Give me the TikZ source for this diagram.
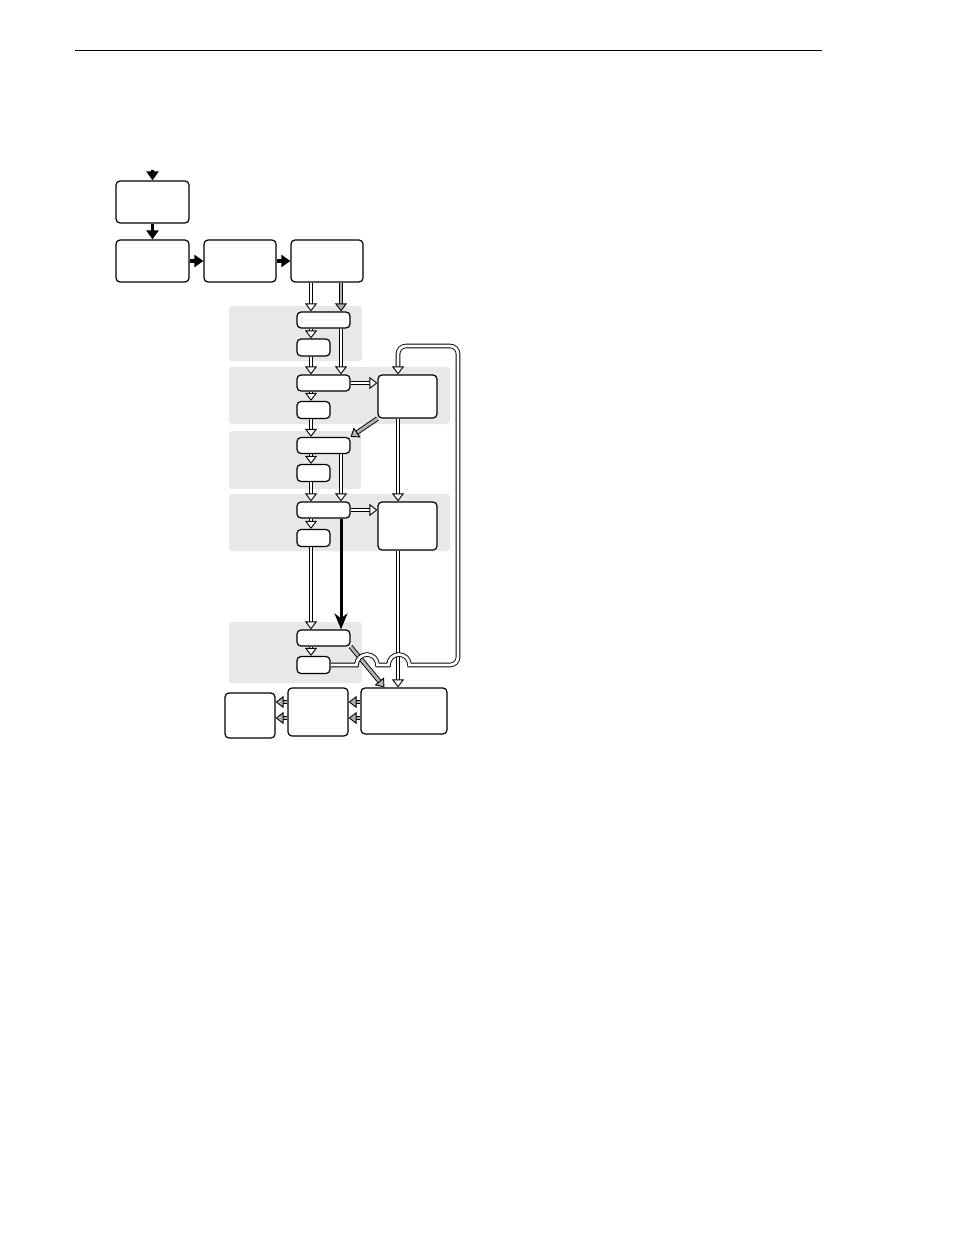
\documentclass[tikz,border=0pt]{standalone}
\usetikzlibrary{arrows.meta}
\tikzset{
  box/.style={draw, rounded corners=2pt, line width=0.6pt, fill=white, inner sep=0pt},
  wide/.style={box, minimum width=26.5pt, minimum height=8pt},
  narrow/.style={box, minimum width=16.5pt, minimum height=8.5pt},
  panel/.style={fill=black!9, rounded corners=1.5pt},
  flow/.style={line width=1.6pt, -{Triangle[length=4.5pt,width=6pt]}},
  bigarrow/.style={line width=1.5pt, -{Stealth[length=8pt,width=6.5pt,inset=2.5pt]}},
  dbl/.style={line width=0.45pt, double=white, double distance=1.4pt, -{Triangle[length=4pt,width=6pt,fill=white]}},
  dblgray/.style={dbl, double=black!30, -{Triangle[length=4pt,width=6pt,fill=black!30]}}
}
\begin{document}
\begin{tikzpicture}[x=0.5pt,y=-0.5pt]
  \useasboundingbox (0,0) rectangle (954,1235);
  \draw[line width=0.5pt] (75,51) -- (822,51);
  % shaded bands
  \fill[panel] (229,306) rectangle (362,361);
  \fill[panel] (229,367) rectangle (450,424);
  \fill[panel] (229,431) rectangle (361,489);
  \fill[panel] (229,494) rectangle (450,551);
  \fill[panel] (229,622) rectangle (362,683);
  % top row
  \node[box, minimum width=36.5pt, minimum height=21pt] (t0) at (152.5,202) {};
  \node[box, minimum width=36.5pt, minimum height=21pt] (t1) at (152.5,261) {};
  \node[box, minimum width=36pt, minimum height=21pt] (t2) at (240,261) {};
  \node[box, minimum width=36pt, minimum height=21pt] (t3) at (327,261) {};
  \coordinate (feed) at (152.5,170);
  \draw[flow] (feed) -- (t0);
  \draw[flow] (t0) -- (t1);
  \draw[flow] (t1) -- (t2);
  \draw[flow] (t2) -- (t3);
  % stages
  \foreach \i/\y/\z in {1/320/347.5, 2/383/410, 3/445.5/473, 4/510/538, 5/638/665} {
    \node[wide] (w\i) at (323.5,\y) {};
    \node[narrow] (n\i) at (313.5,\z) {};
  }
  \node[box, minimum width=29.5pt, minimum height=21.5pt] (e1) at (407.5,396.5) {};
  \node[box, minimum width=29.5pt, minimum height=24pt] (e2) at (407.5,526) {};
  \node[box, minimum width=43pt, minimum height=23pt] (f) at (404,711) {};
  \node[box, minimum width=30pt, minimum height=24pt] (g) at (318,712) {};
  \node[box, minimum width=25pt, minimum height=22.5pt] (h) at (250,715.5) {};
  \coordinate (cl) at (311,0);
  \coordinate (cr) at (341,0);
  \coordinate (ce) at (398,0);
  % connectors
  \draw[dbl] (t3.south -| cl) -- (w1.north -| cl);
  \draw[dblgray] (t3.south -| cr) -- (w1.north -| cr);
  \foreach \i in {1,...,5}
    \draw[dbl] (w\i.south -| cl) -- (n\i.north -| cl);
  \foreach \i/\j in {1/2, 2/3, 3/4, 4/5}
    \draw[dbl] (n\i.south -| cl) -- (w\j.north -| cl);
  \draw[dbl] (w1.south -| cr) -- (w2.north -| cr);
  \draw[dbl] (w3.south -| cr) -- (w4.north -| cr);
  \draw[bigarrow] (w4.south -| cr) -- (w5.north -| cr);
  \draw[dbl] (w2.east) -- (e1.west |- w2.east);
  \draw[dbl] (w4.east) -- (e2.west |- w4.east);
  \draw[dblgray] (e1.south west) -- (w3.north east);
  \draw[dbl] (e1.south -| ce) -- (e2.north -| ce);
  \draw[dbl] (e2.south -| ce) -- (f.north -| ce);
  \draw[dblgray] (w5.south east) -- ([xshift=12pt]f.north west);
  \draw[dblgray] ([yshift=4.5pt]f.west) -- ([yshift=4.5pt]f.west -| g.east);
  \draw[dblgray] ([yshift=-3.5pt]f.west) -- ([yshift=-3.5pt]f.west -| g.east);
  \draw[dblgray] ([yshift=5pt]g.west) -- ([yshift=5pt]g.west -| h.east);
  \draw[dblgray] ([yshift=-3pt]g.west) -- ([yshift=-3pt]g.west -| h.east);
  % feedback loop with hops
  \draw[dbl] (n5.east) -- (356.5,665) arc[start angle=180, end angle=360, radius=10.5]
    -- (388.5,665) arc[start angle=180, end angle=360, radius=10.5]
    [rounded corners=4pt] -- (458,665) -- (458,346) -- (398,346) -- (e1.north -| ce);
\end{tikzpicture}
\end{document}
